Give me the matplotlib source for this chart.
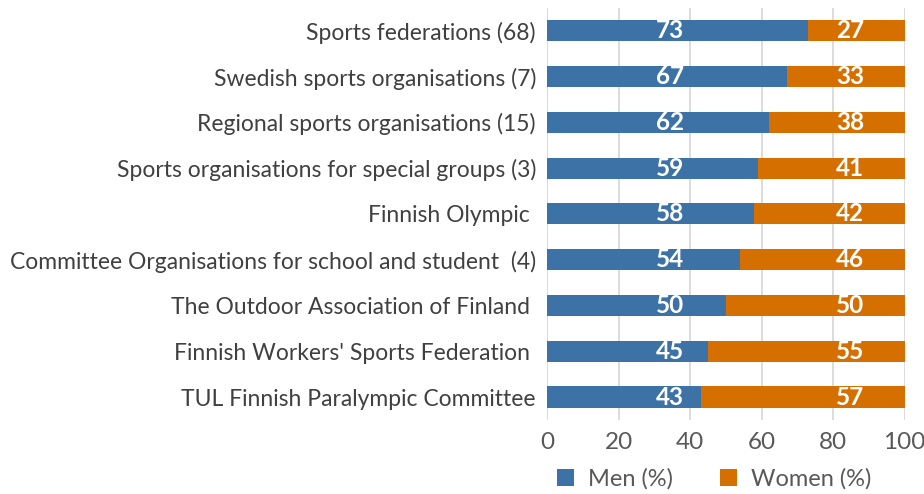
import matplotlib.pyplot as plt
import numpy as np

# data (top to bottom)
categories = [
    "Sports federations (68)",
    "Swedish sports organisations (7)",
    "Regional sports organisations (15)",
    "Sports organisations for special groups (3)",
    "Finnish Olympic ",
    "Committee Organisations for school and student  (4)",
    "The Outdoor Association of Finland ",
    "Finnish Workers' Sports Federation ",
    "TUL Finnish Paralympic Committee",
]
men = [73, 67, 62, 59, 58, 54, 50, 45, 43]
women = [27, 33, 38, 41, 42, 46, 50, 55, 57]
xticks = [0, 20, 40, 60, 80, 100]

blue = "#3c72a6"
orange = "#d46f00"
grey_txt = "#595959"

plt.rcParams['font.family'] = ['Lato', 'DejaVu Sans']

fig = plt.figure(figsize=(9.24, 4.94), dpi=100)
ax = fig.add_axes([0.592, 0.150, 0.387, 0.834])

y = np.arange(len(categories))
h = 0.46
ax.barh(y, men, height=h, color=blue, label="Men (%)", zorder=3)
ax.barh(y, women, left=men, height=h, color=orange, label="Women (%)", zorder=3)

# value labels sit in two fixed columns in the original
for i in range(len(categories)):
    ax.text(34.4, y[i], str(men[i]), color="white", fontsize=17.5, fontweight="bold",
            ha="center", va="center", zorder=4)
    ax.text(84.8, y[i], str(women[i]), color="white", fontsize=17.5, fontweight="bold",
            ha="center", va="center", zorder=4)

ax.set_ylim(len(categories) - 0.5, -0.5)
ax.set_xlim(0, 100)
ax.set_yticks(y)
ax.set_yticklabels(categories, fontsize=16.5, color="#404040")
ax.set_xticks(xticks)
ax.set_xticklabels([str(t) for t in xticks], fontsize=17.5, color=grey_txt)
ax.tick_params(axis="both", length=0)
ax.tick_params(axis="x", pad=9)
ax.tick_params(axis="y", pad=8)
ax.grid(axis="x", color="#d9d9d9", linewidth=1.3, zorder=0)
for s in ax.spines.values():
    s.set_visible(False)

fig.legend(loc="center", bbox_to_anchor=(0.773, 0.030), ncol=2, frameon=False,
           fontsize=17, labelcolor=grey_txt, handlelength=0.7, handleheight=0.7,
           columnspacing=2.0, handletextpad=0.6)

plt.savefig("out.png", dpi=100)
